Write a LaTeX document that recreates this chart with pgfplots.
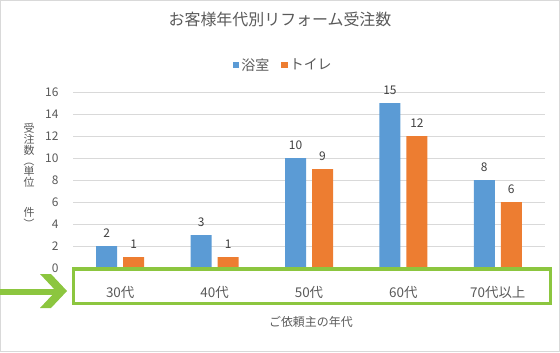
\documentclass[border=0pt]{standalone}
\usepackage{fontspec}
\setmainfont{Noto Sans CJK JP}
\usepackage{graphicx}
\usepackage{pgfplots}
\pgfplotsset{compat=1.18}
\definecolor{txt}{HTML}{595959}
\definecolor{bluebar}{HTML}{5B9BD5}
\definecolor{orangebar}{HTML}{ED7D31}
\definecolor{gridc}{HTML}{D9D9D9}
\definecolor{grn}{RGB}{140,198,63}
\begin{document}
\begin{tikzpicture}[x=1bp,y=1bp]
\path[use as bounding box] (0,0) rectangle (560,352);
\draw[gridc, line width=0.8bp] (0.5,0.5) rectangle (559.5,351.5);
\begin{axis}[
  at={(73bp,84bp)}, anchor=south west,
  scale only axis, width=472bp, height=176bp,
  xmin=-0.5, xmax=4.5, ymin=0, ymax=16,
  ybar=6bp, bar width=21bp,
  xtick={0,1,2,3,4},
  xticklabels={30代,40代,50代,60代,70代以上},
  ytick={0,2,...,16},
  axis line style={draw=none},
  major tick length=0pt,
  ymajorgrids, grid style={gridc, line width=0.8bp},
  /pgf/number format/assume math mode=true,
  xticklabel style={anchor=center, yshift=-24bp, font=\fontsize{13.5}{16}\selectfont, text=txt},
  yticklabel style={anchor=east, xshift=-11bp, font=\fontsize{12}{14}\selectfont, text=txt},
  title={お客様年代別リフォーム受注数},
  title style={at={(0.4386,1.381)}, anchor=center, font=\fontsize{16}{19}\selectfont, text=txt},
  xlabel={ご依頼主の年代},
  xlabel style={at={(axis description cs:0.504,-0.307)}, anchor=center, font=\fontsize{12}{14}\selectfont, text=txt},
  ylabel={受\\注\\数\\\rotatebox[origin=c]{-90}{（}\\単\\位\\[19bp]件\\\rotatebox[origin=c]{-90}{）}},
  ylabel style={rotate=-90, at={(axis description cs:-0.0932,0.5227)}, anchor=center, align=center, font=\fontsize{11}{11}\selectfont, text=txt},
  nodes near coords,
  every node near coord/.append style={font=\fontsize{12}{14}\selectfont, text=black!75, yshift=5bp},
  legend style={at={(0.4456,1.153)}, anchor=center, draw=none, fill=none, legend columns=-1,
    font=\fontsize{14}{16}\selectfont, text=txt,
    /tikz/every even column/.append style={column sep=10bp}},
  legend image code/.code={\fill[#1] (0bp,-3.25bp) rectangle (6.5bp,3.25bp);},
]
\addplot[fill=bluebar, draw=none] coordinates {(0,2) (1,3) (2,10) (3,15) (4,8)};
\addplot[fill=orangebar, draw=none] coordinates {(0,1) (1,1) (2,9) (3,12) (4,6)};
\legend{浴室,トイレ}
\end{axis}
\draw[grn, line width=3.5bp] (73.3,48.3) rectangle (550.3,83);
\fill[grn] (40,78) -- (51,78) -- (67,61) -- (51,44) -- (40,44) -- (56,61) -- cycle;
\fill[grn] (0,57) rectangle (58,63);
\end{tikzpicture}
\end{document}
